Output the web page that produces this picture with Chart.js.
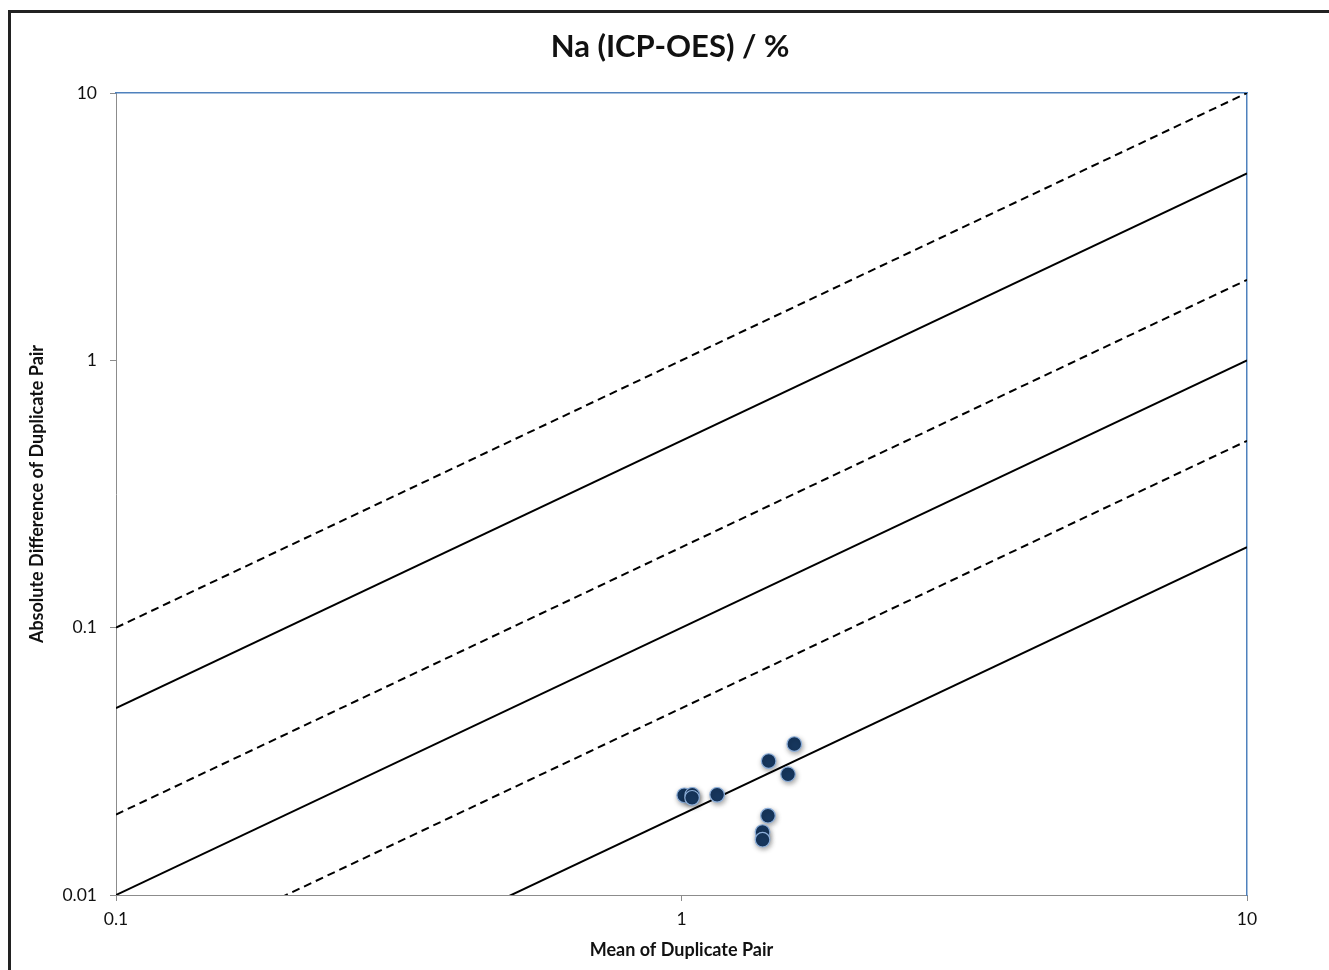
<!DOCTYPE html>
<html>
<head>
<meta charset="utf-8">
<script src="https://cdn.jsdelivr.net/npm/chart.js@4/dist/chart.umd.min.js"></script>
<style>
  html, body { margin: 0; padding: 0; background: #fff; }
  #wrap { position: relative; width: 1329px; height: 970px; overflow: hidden; }
  canvas { position: absolute; left: 0; top: 0; }
  #frame { position: absolute; left: 8px; top: 10px; width: 1400px; height: 1000px;
           border-top: 3px solid #222; border-left: 3px solid #222; pointer-events: none; }
</style>
</head>
<body>
<div id="wrap">
  <canvas id="c" width="1329" height="970"></canvas>
  <div id="frame"></div>
</div>
<script>
// ---- data ----
const chartTitle = 'Na (ICP-OES) / %';
const xTitle = 'Mean of Duplicate Pair';
const yTitle = 'Absolute Difference of Duplicate Pair';
const xTicks = [0.1, 1, 10];
const yTicks = [0.01, 0.1, 1, 10];
const meanOfPair = [1.011, 1.045, 1.044, 1.156, 1.426, 1.583, 1.543, 1.422, 1.391, 1.391];
const absDiff    = [0.0236, 0.0237, 0.0231, 0.0237, 0.0317, 0.0367, 0.0283, 0.0198, 0.0172, 0.0161];
// reference lines y = ratio * x
const refRatios = [1, 0.5, 0.2, 0.1, 0.05, 0.02];
const refDashed = [true, false, true, false, true, false];

const xMin = xTicks[0], xMax = xTicks[xTicks.length - 1];
const yMin = yTicks[0], yMax = yTicks[yTicks.length - 1];

const refDatasets = refRatios.map((r, i) => ({
  type: 'line',
  label: 'ratio ' + r,
  data: [{x: xMin, y: r * xMin}, {x: xMax, y: r * xMax}],
  borderColor: '#000',
  borderWidth: 2,
  borderDash: refDashed[i] ? [8, 5] : [],
  pointRadius: 0,
  fill: false,
  order: 2
}));

const pointData = meanOfPair.map((m, i) => ({x: m, y: absDiff[i]}));

const shadowPlugin = {
  id: 'shadow',
  beforeDatasetDraw(chart, args) {
    if (args.meta.type === 'scatter') {
      const ctx = chart.ctx;
      ctx.save();
      ctx.shadowColor = 'rgba(0,0,0,0.35)';
      ctx.shadowBlur = 5;
      ctx.shadowOffsetX = 1;
      ctx.shadowOffsetY = 2;
    }
  },
  afterDatasetDraw(chart, args) {
    if (args.meta.type === 'scatter') chart.ctx.restore();
  }
};

// centre the title a little right of the full-width box, like the original
const titleShift = {
  id: 'titleShift',
  afterLayout(chart) {
    const t = chart.titleBlock;
    if (t) { t.left = 93; }
  }
};

const bg = {
  id: 'bg',
  beforeDraw(chart) {
    const ctx = chart.ctx;
    ctx.save(); ctx.fillStyle = '#fff'; ctx.fillRect(0, 0, chart.width, chart.height); ctx.restore();
  }
};

const tickFont = {family: 'Lato', size: 17.5};
const axisTitleFont = { family: 'Lato', size: 18, weight: 'bold', lineHeight: 1.2 };
const gray = '#8c8c8c';
const blue = '#4f81bd';

new Chart(document.getElementById('c'), {
  type: 'scatter',
  data: {
    datasets: [{
      type: 'scatter',
      label: 'Na',
      data: pointData,
      backgroundColor: '#17375e',
      borderColor: '#8eb0db',
      borderWidth: 1.2,
      pointRadius: 7.3,
      order: 1
    }, ...refDatasets]
  },
  options: {
    responsive: false,
    animation: false,
    layout: { padding: { left: 0, top: 0, right: 82, bottom: 0 } },
    plugins: {
      legend: { display: false },
      tooltip: { enabled: false },
      title: {
        display: true,
        text: chartTitle,
        color: '#111',
        font: { family: 'Lato', size: 31, weight: 'bold', lineHeight: 1.2 },
        padding: { top: 28.4, bottom: 27.4 }
      }
    },
    scales: {
      x: {
        type: 'logarithmic', position: 'bottom', min: xMin, max: xMax,
        afterBuildTicks: s => { s.ticks = xTicks.map(v => ({value: v})); },
        afterFit: s => { s.height = 75; },
        ticks: { callback: v => String(v), color: '#111', font: tickFont, padding: 8, maxRotation: 0, autoSkip: false },
        grid: { drawOnChartArea: false, drawTicks: true, tickLength: 6, color: gray, lineWidth: 1 },
        border: { color: gray, width: 1 },
        title: { display: true, text: xTitle, color: '#111', font: axisTitleFont,
                 padding: { top: 0, bottom: 9.2 } }
      },
      y: {
        type: 'logarithmic', position: 'left', min: yMin, max: yMax,
        afterBuildTicks: s => { s.ticks = yTicks.map(v => ({value: v})); },
        afterFit: s => { s.width = 116; },
        ticks: { callback: v => String(v), color: '#111', font: tickFont, padding: 13, autoSkip: false },
        grid: { drawOnChartArea: false, drawTicks: true, tickLength: 6, color: gray, lineWidth: 1 },
        border: { color: gray, width: 1 },
        title: { display: true, text: yTitle, color: '#111', font: axisTitleFont,
                 padding: { top: 26.7, bottom: 0 } }
      },
      x2: {
        type: 'logarithmic', position: 'top', min: xMin, max: xMax,
        afterFit: s => { s.height = 0; },
        ticks: { display: false },
        grid: { drawOnChartArea: false, drawTicks: false },
        border: { color: blue, width: 1.5 }
      },
      y2: {
        type: 'logarithmic', position: 'right', min: yMin, max: yMax,
        afterFit: s => { s.width = 0; },
        ticks: { display: false },
        grid: { drawOnChartArea: false, drawTicks: false },
        border: { color: blue, width: 1.5 }
      }
    }
  },
  plugins: [bg, titleShift, shadowPlugin]
});
</script>
</body>
</html>
